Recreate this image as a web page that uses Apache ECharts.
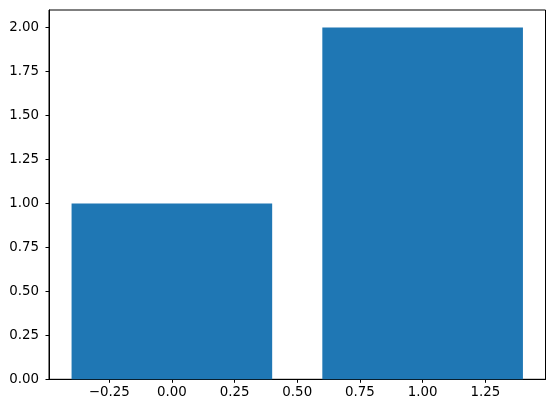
<!DOCTYPE html>
<html>
<head>
<meta charset="utf-8">
<script src="https://cdn.jsdelivr.net/npm/echarts@6/dist/echarts.min.js"></script>
<style>html,body{margin:0;padding:0;background:#fff}#c{width:555px;height:405px}</style>
</head>
<body>
<div id="c"></div>
<script>
const xPositions = [0, 1];
const barHeights = [1, 2];
const xTicks = [-0.25, 0, 0.25, 0.5, 0.75, 1.0, 1.25];
const yTicks = [0, 0.25, 0.5, 0.75, 1.0, 1.25, 1.5, 1.75, 2.0];
const xRange = [-0.49, 1.49];
const yRange = [0, 2.1];
const barWidth = 0.8;

const fmt = v => v.toFixed(2).replace('-', '\u2212');
const font = {fontFamily: 'DejaVu Sans', fontSize: 13.4, color: '#000'};

const chart = echarts.init(document.getElementById('c'), null, {renderer: 'canvas'});
chart.setOption({
  animation: false,
  grid: {left: 49, right: 9.5, top: 10, bottom: 25.7, containLabel: false,
         show: true, borderColor: '#000', borderWidth: 1, backgroundColor: 'transparent'},
  xAxis: {
    type: 'value', min: xRange[0], max: xRange[1],
    splitLine: {show: false},
    axisLine: {show: true, onZero: false, lineStyle: {color: '#000', width: 1}},
    axisTick: {show: true, length: 3.5, inside: false, customValues: xTicks, lineStyle: {color: '#000'}},
    axisLabel: Object.assign({customValues: xTicks, margin: 7, formatter: fmt}, font)
  },
  yAxis: {
    type: 'value', min: yRange[0], max: yRange[1],
    splitLine: {show: false},
    axisLine: {show: true, onZero: false, lineStyle: {color: '#000', width: 1}},
    axisTick: {show: true, length: 3.5, inside: false, customValues: yTicks, lineStyle: {color: '#000'}},
    axisLabel: Object.assign({customValues: yTicks, margin: 10, formatter: fmt}, font)
  },
  series: [{
    type: 'custom',
    data: xPositions.map((x, i) => [x, barHeights[i]]),
    renderItem: function (params, api) {
      const x = api.value(0), h = api.value(1);
      const p1 = api.coord([x - barWidth / 2, h]);
      const p2 = api.coord([x + barWidth / 2, 0]);
      return {type: 'rect', shape: {x: p1[0], y: p1[1], width: p2[0] - p1[0], height: p2[1] - p1[1]},
              style: {fill: '#1f77b4'}};
    }
  }]
});
</script>
</body>
</html>
